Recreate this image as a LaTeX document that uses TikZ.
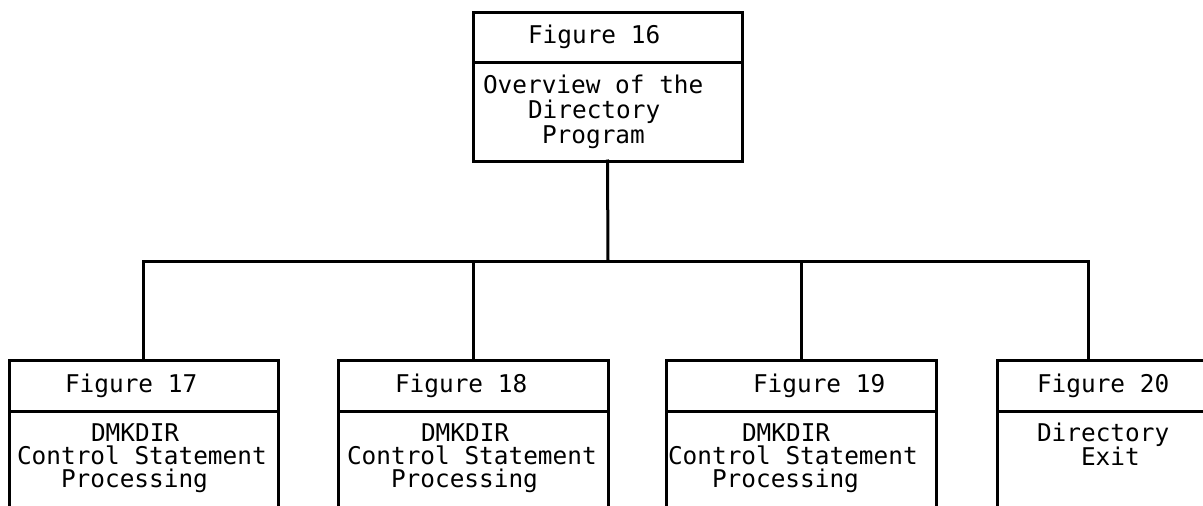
\documentclass[tikz,border=0pt]{standalone}
\usepackage{fontspec}
\newfontfamily\typefont{DejaVu Sans Mono}
\begin{document}
\begin{tikzpicture}[x=1pt,y=-1pt,
  rule/.style={line width=3pt},
  panel/.style={draw, rule, rectangle, inner sep=0pt, outer sep=0pt, anchor=north west},
  label/.style={anchor=base west, inner sep=0pt, outer sep=0pt,
    font=\typefont\fontsize{24.4}{26}\selectfont},
  link/.style={rule, line cap=rect}]
\useasboundingbox (0,0) rectangle (1203,506);
\clip (0,0) rectangle (1203,506);

% top panel
\node[panel, minimum width=269pt, minimum height=149pt] (top) at (473,12) {};
\draw[rule] ([yshift=-50pt]top.north west) -- ([yshift=-50pt]top.north east);
\node[label] (topT) at (528,43) {Figure 16};
\node[label] (topA) at (483,93) {Overview of the};
\node[label] (topB) at (528,118) {Directory};
\node[label] (topC) at (542,143) {Program};

% lower panels (they run on past the lower edge)
\node[panel, minimum width=269pt, minimum height=170pt] (b1) at (9,360) {};
\node[panel, minimum width=270pt, minimum height=170pt] (b2) at (338,360) {};
\node[panel, minimum width=270pt, minimum height=170pt] (b3) at (666,360) {};
\node[panel, minimum width=225pt, minimum height=170pt] (b4) at (997,360) {};
\foreach \b in {b1,b2,b3,b4}
  \draw[rule] ([yshift=-51pt]\b.north west) -- ([yshift=-51pt]\b.north east);

\node[label] (b1T) at (65,392) {Figure 17};
\node[label] (b1A) at (91,441) {DMKDIR};
\node[label] (b1B) at (17,464) {Control Statement};
\node[label] (b1C) at (61,487) {Processing};

\node[label] (b2T) at (395,392) {Figure 18};
\node[label] (b2A) at (421,441) {DMKDIR};
\node[label] (b2B) at (347,464) {Control Statement};
\node[label] (b2C) at (391,487) {Processing};

\node[label] (b3T) at (753,392) {Figure 19};
\node[label] (b3A) at (742,441) {DMKDIR};
\node[label] (b3B) at (668,464) {Control Statement};
\node[label] (b3C) at (712,487) {Processing};

\node[label] (b4T) at (1037,392) {Figure 20};
\node[label] (b4A) at (1037,441) {Directory};
\node[label] (b4B) at (1081,465) {Exit};

% connectors
\coordinate (bus) at (608,261);
\coordinate (b4in) at (1088,360);
\draw[link] (top.south) -- (bus);
\draw[link] (bus) -| (b1.north);
\draw[link] (bus) -| (b2.north);
\draw[link] (bus) -| (b3.north);
\draw[link] (bus) -| (b4in);
\end{tikzpicture}
\end{document}
